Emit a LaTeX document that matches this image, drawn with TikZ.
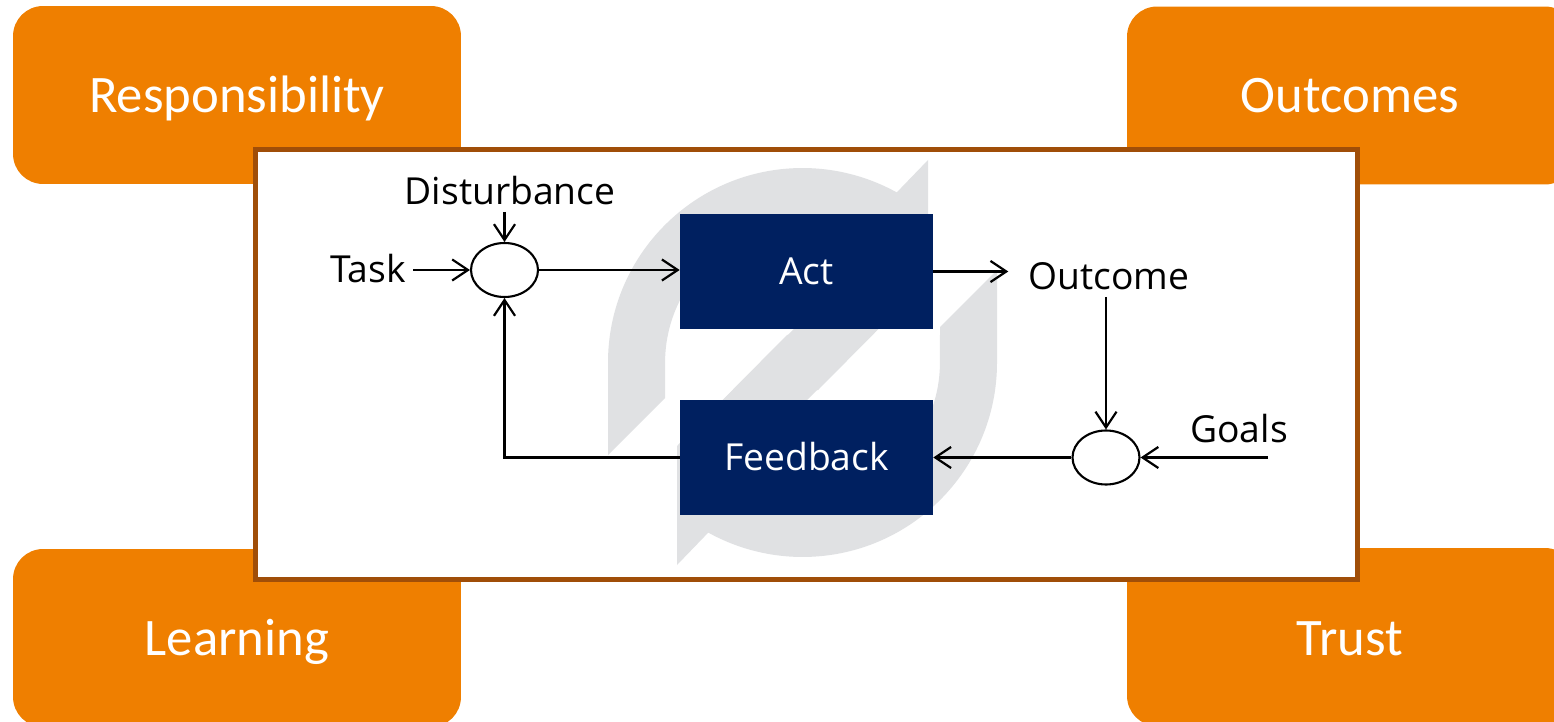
\documentclass[tikz,border=0pt]{standalone}
\usepackage{fontspec}
\setmainfont{Open Sans}
\newfontfamily\carlito{Carlito}
\usetikzlibrary{arrows.meta,shapes.geometric,calc}
\definecolor{orng}{RGB}{239,127,0}
\definecolor{brwn}{RGB}{160,78,8}
\definecolor{navy}{RGB}{0,32,96}
\definecolor{icongray}{RGB}{224,225,227}
\begin{document}
\begin{tikzpicture}[x=0.02cm,y=-0.02cm,
  obox/.style={fill=orng, rounded corners=0.6cm, minimum width=8.96cm, minimum height=3.56cm, inner sep=0},
  otext/.style={anchor=base, text=white, font=\carlito\fontsize{30}{36}\selectfont, inner sep=0},
  bbox/.style={fill=navy, minimum width=5.06cm, minimum height=2.32cm, inner sep=0, text=white, font=\fontsize{21.2}{25}\selectfont, text height=15.1pt, text depth=0pt},
  lbl/.style={anchor=base, font=\fontsize{21.2}{25}\selectfont, inner sep=0},
  sumj/.style={ellipse, draw, line width=1.2pt, minimum width=1.34cm, minimum height=1.08cm, inner sep=0},
  arr/.style={-{Straight Barb[length=9pt,width=12pt]}, line width=1.25pt},
]
\useasboundingbox (0,0) rectangle (1554,722);
\clip (0,0) rectangle (1554,722);
% orange corner boxes
\node[obox] (rb) at (237,95) {};
\node[obox] (ob) at (1351,95.5) {};
\node[obox] (lb) at (237,638) {};
\node[obox] (tb) at (1351,637) {};
\node[otext] (rt) at (237,113) {Responsibility};
\node[otext] (ot) at (1350,113) {Outcomes};
\node[otext] (lt) at (237,655) {Learning};
\node[otext] (tt) at (1350,655) {Trust};
% main frame
\node[draw=brwn, line width=0.1cm, fill=white, minimum width=22.06cm, minimum height=8.61cm, inner sep=0] (frame) at (806.5,364.75) {};
% background cycle icon
\fill[icongray] (608,455) -- (608,362.5) arc[start angle=180,end angle=61,radius=3.89cm]
  -- (928,160) -- (928,279) -- (818,390) -- (724,399) -- (876.4,246.5)
  arc[start angle=57.5,end angle=180,radius=2.75cm] -- (665,398) -- cycle;
\fill[icongray] (997,270) -- (997,362.5) arc[start angle=0,end angle=-119,radius=3.89cm]
  -- (677,565) -- (677,446) -- (787,335) -- (881,326) -- (728.6,478.5)
  arc[start angle=237.5,end angle=360,radius=2.75cm] -- (940,327) -- cycle;
% blocks
\node[bbox] (act) at (806.5,271.5) {Act};
\node[bbox] (fb) at (806.5,457.5) {Feedback};
\node[sumj] (s1) at (504.5,270) {};
\node[sumj] (s2) at (1106,457.5) {};
% labels
\node[lbl, inner sep=4pt] (task) at (368,283) {Task};
\node[lbl] (dist) at (510,205) {Disturbance};
\node[lbl] (outc) at (1109,290) {Outcome};
\node[lbl] (goals) at (1239,442) {Goals};
\coordinate (gin) at (1268,457.5);
\path ([xshift=-0.4cm]outc.west) coordinate (oin);
\path ([yshift=-0.14cm]dist.base) coordinate (din);
\path ([yshift=-0.14cm]outc.base) coordinate (oout);
% connectors
\draw[arr] (task.east |- s1.west) -- (s1.west);
\draw[arr] (din -| s1.north) -- (s1.north);
\draw[arr] (s1.east) -- (act.west |- s1.east);
\draw[arr] (act.east) -- (oin |- act.east);
\draw[arr] (oout -| s2.north) -- (s2.north);
\draw[arr] (gin) -- (s2.east);
\draw[arr] (s2.west) -- (fb.east |- s2.west);
\draw[arr] (fb.west) -| (s1.south);
\end{tikzpicture}
\end{document}
